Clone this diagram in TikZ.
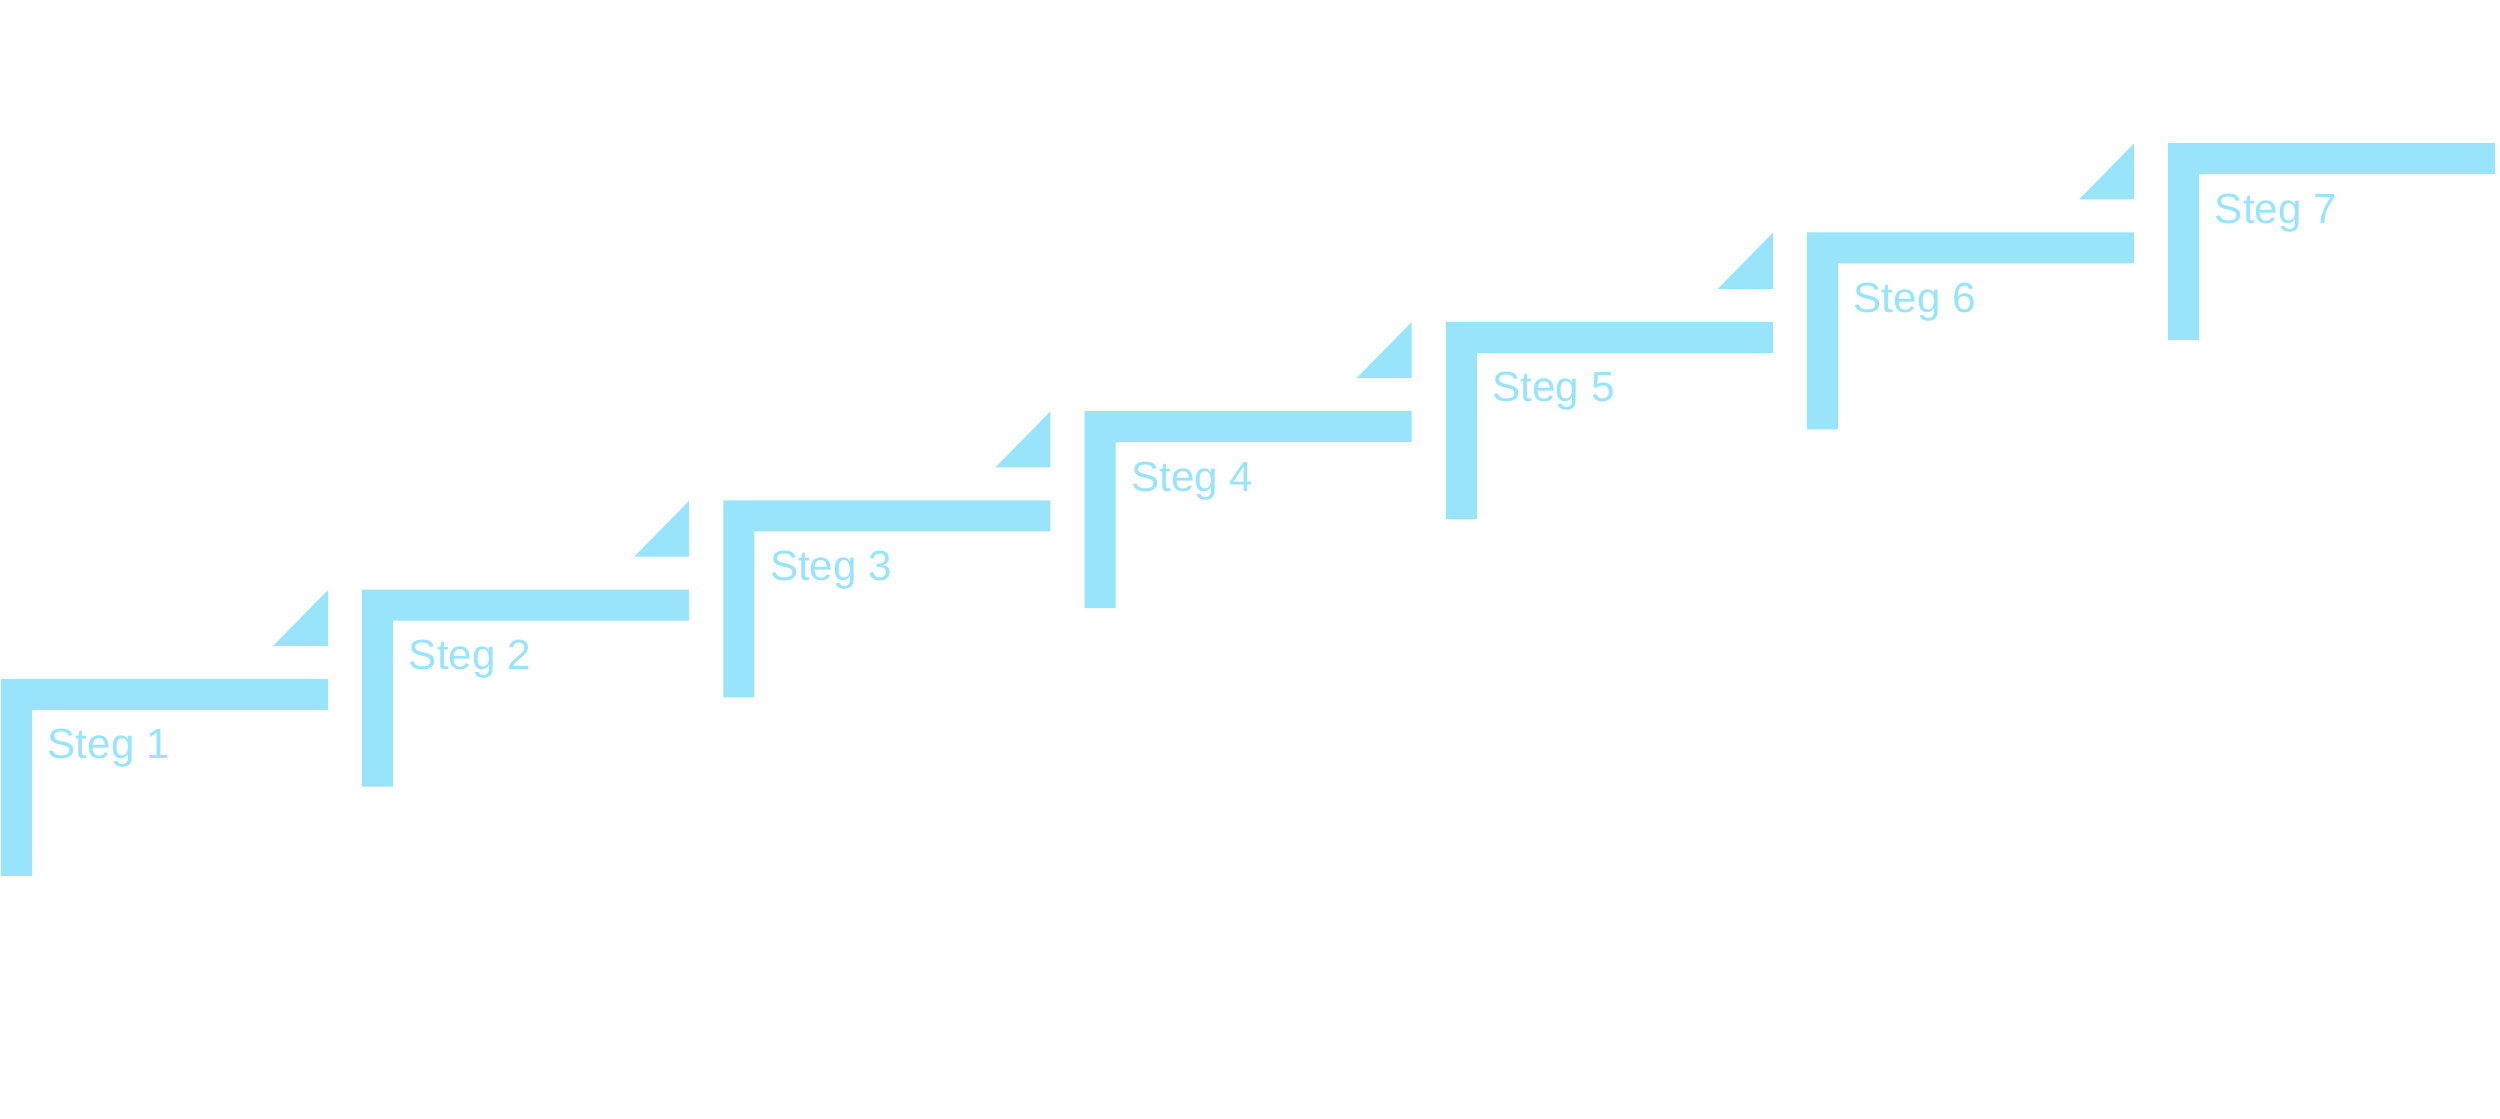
\documentclass[tikz,border=0pt]{standalone}
\usepackage{fontspec}
\setmainfont{Liberation Sans}
\usepackage{tikz}
\definecolor{stegblue}{RGB}{152,228,250}
\tikzset{
  stegbar/.style={fill=stegblue, draw=none},
  steglabel/.style={text=stegblue, font=\fontsize{12}{14}\selectfont, anchor=base west, inner sep=0pt}
}

\begin{document}
\begin{tikzpicture}[x=0.01cm, y=0.01cm]
    \useasboundingbox (0,0) rectangle (2500,1118);
    % steps
    \fill[stegbar] (1,439) -- ++(327,0) -- ++(0,-31) -- ++(-296,0) -- ++(0,-166) -- ++(-31,0) -- cycle;
    \fill[stegbar] (362.2,528.3) -- ++(327,0) -- ++(0,-31) -- ++(-296,0) -- ++(0,-166) -- ++(-31,0) -- cycle;
    \fill[stegbar] (723.4,617.6) -- ++(327,0) -- ++(0,-31) -- ++(-296,0) -- ++(0,-166) -- ++(-31,0) -- cycle;
    \fill[stegbar] (1084.6,706.9) -- ++(327,0) -- ++(0,-31) -- ++(-296,0) -- ++(0,-166) -- ++(-31,0) -- cycle;
    \fill[stegbar] (1445.8,796.2) -- ++(327,0) -- ++(0,-31) -- ++(-296,0) -- ++(0,-166) -- ++(-31,0) -- cycle;
    \fill[stegbar] (1807,885.5) -- ++(327,0) -- ++(0,-31) -- ++(-296,0) -- ++(0,-166) -- ++(-31,0) -- cycle;
    \fill[stegbar] (2168.2,974.8) -- ++(327,0) -- ++(0,-31) -- ++(-296,0) -- ++(0,-166) -- ++(-31,0) -- cycle;
    % corner triangles
    \fill[stegbar] (273,472) -- ++(55,0) -- ++(0,56) -- cycle;
    \fill[stegbar] (634.2,561.3) -- ++(55,0) -- ++(0,56) -- cycle;
    \fill[stegbar] (995.4,650.6) -- ++(55,0) -- ++(0,56) -- cycle;
    \fill[stegbar] (1356.6,739.9) -- ++(55,0) -- ++(0,56) -- cycle;
    \fill[stegbar] (1717.8,829.2) -- ++(55,0) -- ++(0,56) -- cycle;
    \fill[stegbar] (2079,918.5) -- ++(55,0) -- ++(0,56) -- cycle;
    % labels
    \node[steglabel] (s1) at (47,359) {Steg 1};
    \node[steglabel] (s2) at (408.2,448.3) {Steg 2};
    \node[steglabel] (s3) at (769.4,537.6) {Steg 3};
    \node[steglabel] (s4) at (1130.6,626.9) {Steg 4};
    \node[steglabel] (s5) at (1491.8,716.2) {Steg 5};
    \node[steglabel] (s6) at (1853,805.5) {Steg 6};
    \node[steglabel] (s7) at (2214.2,894.8) {Steg 7};
\end{tikzpicture}
\end{document}
